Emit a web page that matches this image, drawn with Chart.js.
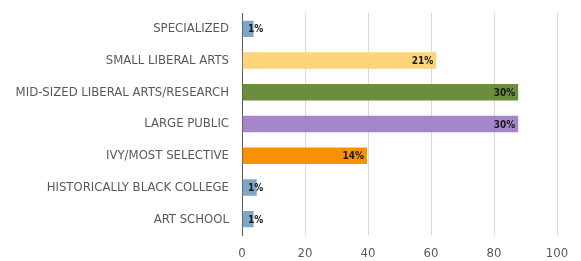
<!DOCTYPE html>
<html>
<head>
<meta charset="utf-8">
<script src="https://cdn.jsdelivr.net/npm/chart.js@4.4.1/dist/chart.umd.min.js"></script>
<style>
  html, body { margin: 0; padding: 0; background: #fff; }
  #wrap { width: 581px; height: 261px; }
</style>
</head>
<body>
<div id="wrap"><canvas id="chart" width="581" height="261"></canvas></div>
<script>
// Data
const categories = [
  "SPECIALIZED",
  "SMALL LIBERAL ARTS",
  "MID-SIZED LIBERAL ARTS/RESEARCH",
  "LARGE PUBLIC",
  "IVY/MOST SELECTIVE",
  "HISTORICALLY BLACK COLLEGE",
  "ART SCHOOL"
];
const values = [4, 62, 88, 88, 40, 5, 4];
const valueLabels = ["1%", "21%", "30%", "30%", "14%", "1%", "1%"];
const xTicks = [0, 20, 40, 60, 80, 100];

const barColors = ["#7EA6C6", "#FDD47C", "#6A8E3E", "#A585C9", "#F79205", "#7EA6C6", "#7EA6C6"];

const LABEL_FONT = "'Liberation Sans Narrow', 'DejaVu Sans Condensed', 'Liberation Sans', sans-serif";

// Draw the percent labels at the inside end of each bar
const endLabels = {
  id: "endLabels",
  afterDatasetsDraw(chart) {
    const ctx = chart.ctx;
    const meta = chart.getDatasetMeta(0);
    const base = chart.scales.x.getPixelForValue(0);
    ctx.save();
    ctx.font = "bold 10px " + LABEL_FONT;
    ctx.fillStyle = "#1a1a1a";
    ctx.textAlign = "right";
    ctx.textBaseline = "middle";
    meta.data.forEach((bar, i) => {
      const text = valueLabels[i];
      const w = ctx.measureText(text).width;
      const x = Math.max(bar.x - 4, base + 6 + w);
      ctx.fillText(text, x, bar.y + 1);
    });
    ctx.restore();
  }
};

new Chart(document.getElementById("chart"), {
  type: "bar",
  data: {
    labels: categories,
    datasets: [{
      data: values,
      backgroundColor: barColors,
      borderColor: "rgba(255,255,255,0.35)",
      borderWidth: 1,
      borderSkipped: "start",
      categoryPercentage: 1,
      barPercentage: 0.58
    }]
  },
  options: {
    indexAxis: "y",
    responsive: false,
    animation: false,
    layout: { padding: { left: 0, right: 24, top: 13, bottom: 0 } },
    plugins: {
      legend: { display: false },
      tooltip: { enabled: false }
    },
    scales: {
      x: {
        min: 0,
        max: 100,
        afterBuildTicks: (scale) => { scale.ticks = xTicks.map((v) => ({ value: v })); },
        afterFit: (scale) => { scale.height = 26; },
        grid: { color: "#d9d9d9", drawTicks: false },
        border: { display: false },
        ticks: {
          padding: 11,
          color: "#595959",
          font: { size: 13, family: LABEL_FONT }
        }
      },
      y: {
        afterFit: (scale) => {
          scale.width = 242;
          scale.paddingTop = 0;
          scale.paddingBottom = 0;
        },
        grid: { display: false, drawTicks: false },
        border: { display: true, color: "#595959", width: 1 },
        ticks: {
          padding: 13,
          color: "#595959",
          font: { size: 13, family: LABEL_FONT }
        }
      }
    }
  },
  plugins: [endLabels]
});
</script>
</body>
</html>
